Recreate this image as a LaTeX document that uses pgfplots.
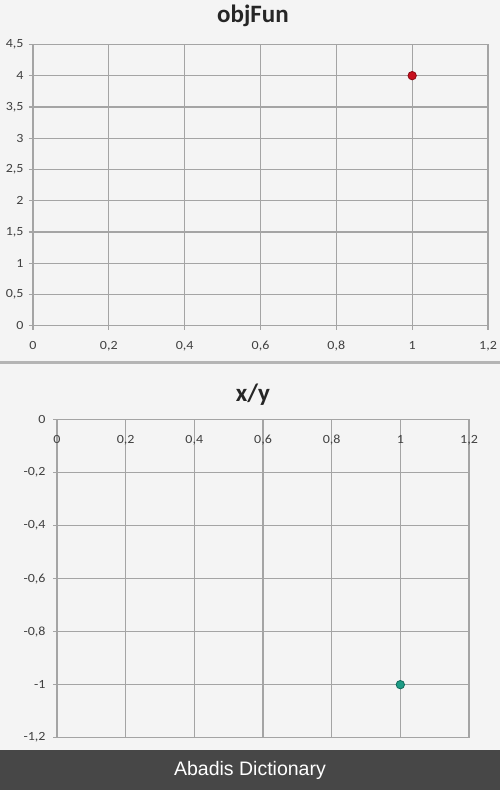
\documentclass[border=0pt]{standalone}
\usepackage{pgfplots}
\pgfplotsset{compat=1.18}
\usepackage{fontspec}
\setmainfont{Carlito}
\newfontfamily\tickfont[FakeStretch=1.12]{Carlito}
\newfontfamily\bannerfont{Liberation Sans}

\definecolor{bgcol}{HTML}{F4F4F4}
\definecolor{gridcol}{HTML}{A4A4A4}
\definecolor{sepcol}{HTML}{B4B4B4}
\definecolor{labelcol}{HTML}{404040}
\definecolor{bannercol}{HTML}{474747}
\definecolor{ptred}{HTML}{C8101E}
\definecolor{ptredline}{HTML}{8A0A14}
\definecolor{ptteal}{HTML}{1E9C86}
\definecolor{ptteal line}{HTML}{0F6A5A}

\pgfplotsset{
  sheet/.style={
    scale only axis,
    xmin=0, xmax=1.2,
    xtick={0,0.2,0.4,0.6,0.8,1,1.2},
    grid=major,
    major grid style={draw=gridcol, line width=1.2bp},
    axis line style={draw=gridcol, line width=1.2bp},
    tick style={draw=gridcol, line width=1.2bp},
    tick align=outside,
    major tick length=4bp,
    ticklabel style={font=\tickfont\fontsize{12.5bp}{14bp}\selectfont, text=labelcol},
    /pgf/number format/.cd, use comma, assume math mode=true,
  },
}

\begin{document}
\begin{tikzpicture}
  % page background and footer
  \fill[bgcol] (0bp,0bp) rectangle (500bp,790bp);
  \fill[sepcol] (0bp,426bp) rectangle (500bp,428.5bp);
  \fill[bannercol] (0bp,0bp) rectangle (500bp,40bp);
  \node[text=white, font=\bannerfont\fontsize{19.5bp}{22bp}\selectfont] at (250bp,20bp) {Abadis Dictionary};

  % objFun chart
  \node[font=\bfseries\fontsize{25bp}{28bp}\selectfont, text=black!85] at (253bp,774bp) {objFun};
  \begin{axis}[sheet,
    at={(33bp,464.3bp)}, anchor=south west,
    width=455bp, height=281.3bp,
    ymin=0, ymax=4.5,
    ytick={0,0.5,1,1.5,2,2.5,3,3.5,4,4.5},
    xtick pos=lower, ytick pos=left,
    yticklabel style={xshift=-2bp},
    xticklabel style={yshift=-8bp},
  ]
    \addplot[only marks, mark=*, mark size=4.2bp,
      mark options={fill=ptred, draw=ptredline, line width=0.8bp}]
      coordinates {(1,4)};
  \end{axis}

  % x/y chart
  \node[font=\bfseries\fontsize{25bp}{28bp}\selectfont, text=black!85] at (253bp,395bp) {x/y};
  \begin{axis}[sheet,
    at={(57bp,52.3bp)}, anchor=south west,
    width=412bp, height=318.2bp,
    ymin=-1.2, ymax=0,
    ytick={-1.2,-1,-0.8,-0.6,-0.4,-0.2,0},
    ytick pos=left,
    xticklabel pos=upper,
    xtick style={draw=none},
    xticklabel style={anchor=north, yshift=-16bp},
    yticklabel style={xshift=-4bp},
  ]
    \addplot[only marks, mark=*, mark size=4.2bp,
      mark options={fill=ptteal, draw=ptteal line, line width=0.8bp}]
      coordinates {(1,-1)};
  \end{axis}
\end{tikzpicture}
\end{document}
